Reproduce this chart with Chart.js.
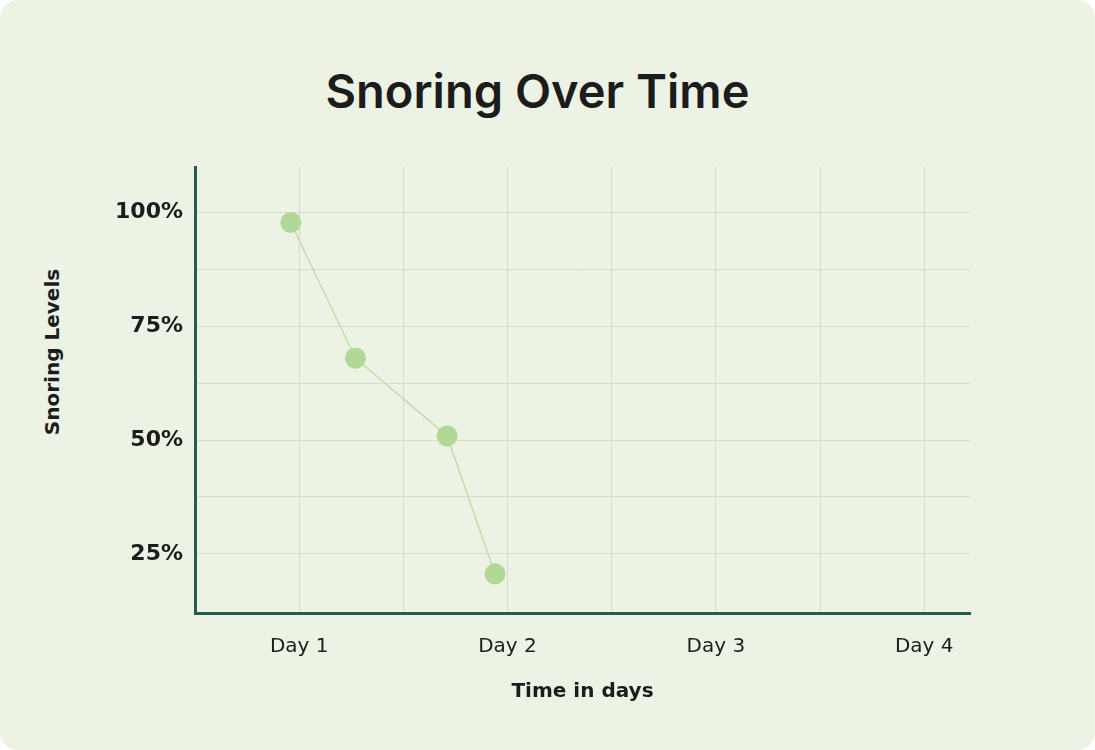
<!DOCTYPE html>
<html lang="en">
<head>
    <meta charset="UTF-8">
    <title>Snoring Over Time</title>
    <script src="https://cdn.jsdelivr.net/npm/chart.js"></script>
    <style>
        body {
            margin: 0;
            background: #ffffff;
            font-family: 'Inter', sans-serif;
        }
        .card {
            position: relative;
            width: 1095px;
            height: 750px;
            background-color: #edf3e4;
            border-radius: 18px;
            overflow: hidden;
        }
        .card h1 {
            position: absolute;
            left: 0;
            width: 1075px;
            top: 62px;
            margin: 0;
            text-align: center;
            font-size: 47px;
            line-height: normal;
            font-weight: 600;
            color: #1c1c1c;
        }
        .y-title {
            position: absolute;
            left: 52px;
            top: 352px;
            transform: translate(-50%, -50%) rotate(-90deg);
            white-space: nowrap;
            font-family: 'DejaVu Sans', sans-serif;
            font-size: 20px;
            font-weight: bold;
            color: #1c1c1c;
        }
        #snoring-chart {
            position: absolute;
            left: 0;
            top: 0;
        }
    </style>
</head>
<body>
    <div class="card">
        <h1>Snoring Over Time</h1>
        <div class="y-title">Snoring Levels</div>
        <canvas id="snoring-chart" width="1095" height="750"></canvas>
    </div>

    <script>
        // values
        const dayPositions = [0.96, 1.27, 1.71, 1.94];
        const snoringLevels = [97.8, 68, 50.9, 20.6];
        const dayTicks = [1, 2, 3, 4];
        const dayLabels = ['Day 1', 'Day 2', 'Day 3', 'Day 4'];
        const levelTicks = [25, 50, 75, 100];
        const levelLabels = ['25%', '50%', '75%', '100%'];

        const points = dayPositions.map((d, i) => ({ x: d, y: snoringLevels[i] }));

        const gridColor = '#d4decc';
        const axisColor = '#245c55';
        const textColor = '#1c1c1c';
        const axisFont = "'DejaVu Sans', sans-serif";

        const ctx = document.getElementById('snoring-chart').getContext('2d');
        new Chart(ctx, {
            type: 'line',
            data: {
                datasets: [{
                    label: 'Snoring Levels',
                    data: points,
                    borderColor: '#b7dba0',
                    borderWidth: 1.2,
                    backgroundColor: '#b2d898',
                    pointBackgroundColor: '#b2d898',
                    pointBorderWidth: 0,
                    pointRadius: 10.5,
                    pointHoverRadius: 10.5,
                    tension: 0
                }]
            },
            options: {
                responsive: false,
                animation: false,
                layout: {
                    padding: { left: 0, right: 125, top: 167, bottom: 0 }
                },
                plugins: {
                    legend: { display: false },
                    tooltip: { enabled: false }
                },
                scales: {
                    x: {
                        type: 'linear',
                        min: 0.5,
                        max: 4.22,
                        afterBuildTicks: function(scale) {
                            const t = [];
                            for (let i = 0; i < dayTicks.length; i++) {
                                if (i > 0) t.push({ value: dayTicks[i] - 0.5 });
                                t.push({ value: dayTicks[i] });
                            }
                            scale.ticks = t;
                        },
                        afterFit: function(scale) {
                            scale.height = 750 - 613;
                        },
                        ticks: {
                            padding: 22,
                            autoSkip: false,
                            maxRotation: 0,
                            font: { family: axisFont, size: 20 },
                            color: textColor,
                            callback: function(value) {
                                const i = dayTicks.indexOf(value);
                                return i >= 0 ? dayLabels[i] : '';
                            }
                        },
                        grid: {
                            color: gridColor,
                            lineWidth: 1,
                            drawTicks: false
                        },
                        border: {
                            display: true,
                            color: axisColor,
                            width: 3
                        },
                        title: {
                            display: true,
                            text: 'Time in days',
                            color: textColor,
                            font: { family: axisFont, size: 20, weight: 'bold' },
                            padding: { top: 0, bottom: 46 }
                        }
                    },
                    y: {
                        type: 'linear',
                        min: 12,
                        max: 110,
                        afterBuildTicks: function(scale) {
                            const t = [];
                            for (let v = 25; v <= 100; v += 12.5) t.push({ value: v });
                            scale.ticks = t;
                        },
                        afterFit: function(scale) {
                            scale.width = 195;
                        },
                        ticks: {
                            padding: 12,
                            font: { family: axisFont, size: 22, weight: 'bold' },
                            color: textColor,
                            callback: function(value) {
                                const i = levelTicks.indexOf(value);
                                return i >= 0 ? levelLabels[i] : '';
                            }
                        },
                        grid: {
                            color: gridColor,
                            lineWidth: 1,
                            drawTicks: false
                        },
                        border: {
                            display: true,
                            color: axisColor,
                            width: 3
                        }
                    }
                }
            }
        });
    </script>
</body>
</html>
